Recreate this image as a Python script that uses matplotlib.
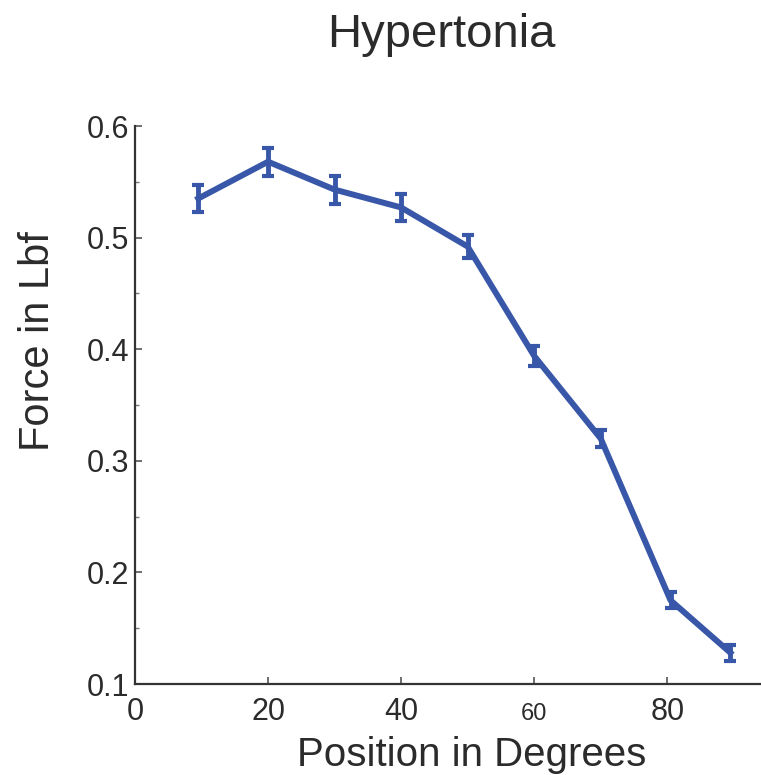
import matplotlib
matplotlib.use('Agg')
import matplotlib.pyplot as plt
from matplotlib.ticker import MultipleLocator
from matplotlib.transforms import ScaledTranslation

plt.rcParams['font.family'] = ['Liberation Sans', 'DejaVu Sans']

# values
position = [9.5, 20, 30, 40, 50, 60, 70, 80.5, 89.5]
force = [0.535, 0.568, 0.543, 0.527, 0.492, 0.394, 0.320, 0.175, 0.128]
force_err = [0.012, 0.0125, 0.0125, 0.012, 0.010, 0.009, 0.008, 0.007, 0.007]
x_ticks = [0, 20, 40, 60, 80]
y_ticks = [0.1, 0.2, 0.3, 0.4, 0.5, 0.6]

line_color = '#3857a8'
text_color = '#2b2b2b'

fig = plt.figure(figsize=(7.61, 7.75), dpi=100)
ax = fig.add_axes([135 / 761, 91 / 775, 626 / 761, 558 / 775])

ax.errorbar(position, force, yerr=force_err, color=line_color, linewidth=4.3,
            elinewidth=3.5, capsize=4, capthick=3, clip_on=False)

ax.set_xlim(0, 94.1)
ax.set_ylim(0.1, 0.6)
ax.set_xticks(x_ticks)
ax.set_yticks(y_ticks)
ax.yaxis.set_minor_locator(MultipleLocator(0.05))
ax.set_xticklabels([str(t) for t in x_ticks])
ax.set_yticklabels(['%.1f' % t for t in y_ticks])

for s in ['top', 'right']:
    ax.spines[s].set_visible(False)
for s in ['left', 'bottom']:
    ax.spines[s].set_color('#333333')
    ax.spines[s].set_linewidth(1.6)

ax.tick_params(which='major', direction='in', length=5, width=1.2,
               color='#555555', labelsize=22, labelcolor=text_color)
ax.tick_params(which='minor', direction='in', length=3, width=1.0,
               color='#777777')
ax.tick_params(axis='x', pad=9)
ax.tick_params(axis='y', pad=4)

# the "60" label is smaller in the reference and sits on the same baseline
for lab in ax.get_xticklabels():
    if lab.get_text() == '60':
        lab.set_fontsize(17)
        lab.set_transform(lab.get_transform() +
                          ScaledTranslation(0, -5 / 72, fig.dpi_scale_trans))

fig.text(441 / 761, 1 - 47 / 775, 'Hypertonia', fontsize=34,
         color=text_color, ha='center', va='baseline')
fig.text(472 / 761, 9 / 775, 'Position in Degrees', fontsize=29,
         color=text_color, ha='center', va='baseline')
fig.text(38 / 761, 1 - 341 / 775, 'Force in Lbf', fontsize=30,
         color=text_color, ha='center', va='center', rotation=90)

fig.savefig('out.png', dpi=100)
